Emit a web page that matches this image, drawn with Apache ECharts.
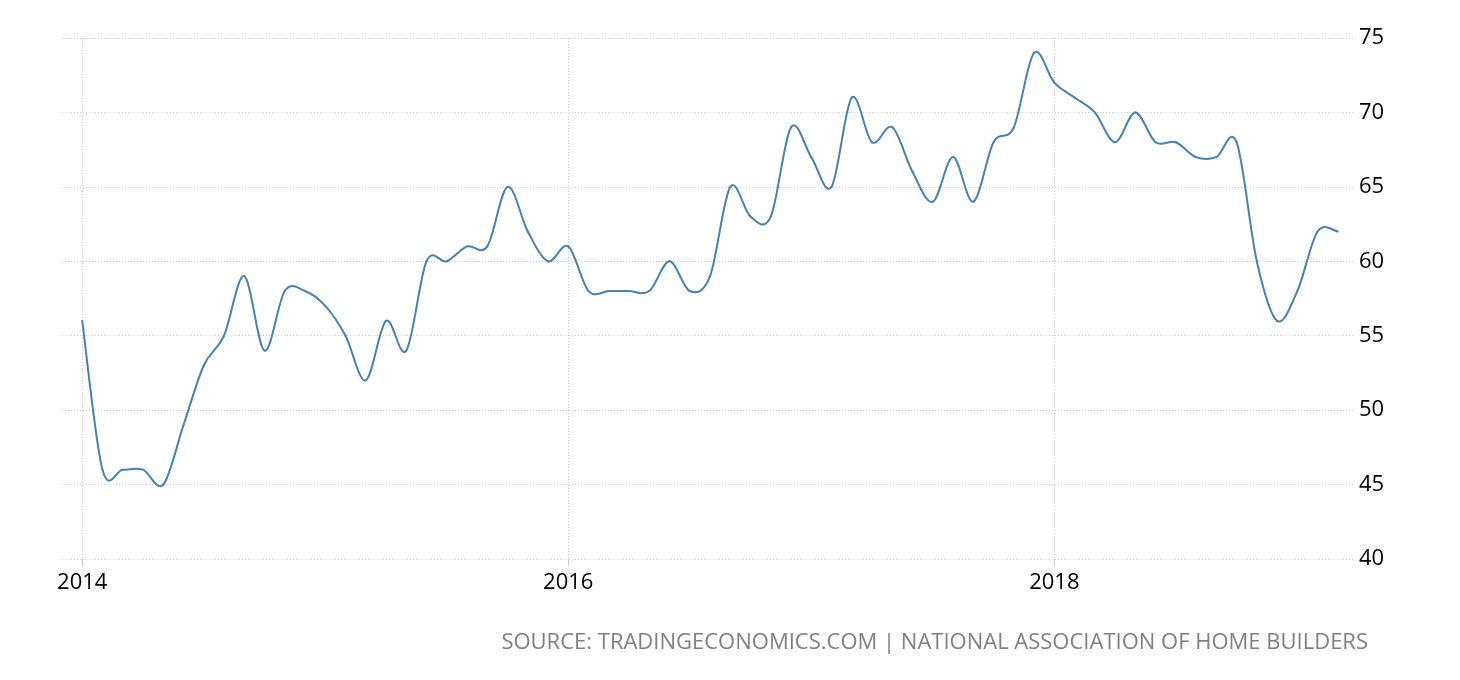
<!DOCTYPE html>
<html>
<head>
<meta charset="utf-8">
<script src="https://cdn.jsdelivr.net/npm/echarts@6/dist/echarts.min.js"></script>
<style>
html,body{margin:0;padding:0;background:#fff;}
#chart{width:1460px;height:680px;}
</style>
</head>
<body>
<div id="chart"></div>
<script>
// Monthly index values, Jan 2014 - Mar 2019
const startYear = 2014;
const values2014 = [56, 46, 46, 46, 45, 49, 53, 55, 59, 54, 58, 58];
const values2015 = [57, 55, 52, 56, 54, 60, 60, 61, 61, 65, 62, 60];
const values2016 = [61, 58, 58, 58, 58, 60, 58, 59, 65, 63, 63, 69];
const values2017 = [67, 65, 71, 68, 69, 66, 64, 67, 64, 68, 69, 74];
const values2018 = [72, 71, 70, 68, 70, 68, 68, 67, 67, 68, 60, 56];
const values2019 = [58, 62, 62];
const xTickLabels = ['2014', '2016', '2018'];
const yTicks = [40, 45, 50, 55, 60, 65, 70, 75];
const sourceText = 'SOURCE: TRADINGECONOMICS.COM | NATIONAL ASSOCIATION OF HOME BUILDERS';

const allValues = [].concat(values2014, values2015, values2016, values2017, values2018, values2019);
const seriesData = allValues.map((v, i) => [i, v]);
const xTickValues = xTickLabels.map(y => (parseInt(y, 10) - startYear) * 12);
const n = seriesData.length;

// Catmull-Rom segment from point i to i+1, positioned via the axes' scales
function renderSegment(params, api) {
  const i = params.dataIndex;
  if (i >= n - 1) return null;
  const pt = k => api.coord(seriesData[Math.max(0, Math.min(n - 1, k))]);
  const p0 = pt(i - 1), p1 = pt(i), p2 = pt(i + 1), p3 = pt(i + 2);
  return {
    type: 'bezierCurve',
    shape: {
      x1: p1[0], y1: p1[1],
      cpx1: p1[0] + (p2[0] - p0[0]) / 6, cpy1: p1[1] + (p2[1] - p0[1]) / 6,
      cpx2: p2[0] - (p3[0] - p1[0]) / 6, cpy2: p2[1] - (p3[1] - p1[1]) / 6,
      x2: p2[0], y2: p2[1]
    },
    style: { stroke: '#4682b4', lineWidth: 2, fill: null, lineCap: 'round' }
  };
}

const chart = echarts.init(document.getElementById('chart'));
chart.setOption({
  animation: false,
  backgroundColor: '#ffffff',
  grid: { left: 62, right: 107, top: 38, bottom: 121, containLabel: false },
  title: {
    text: sourceText,
    right: 92,
    top: 632,
    padding: 0,
    textStyle: { fontFamily: 'Open Sans', fontSize: 22, fontWeight: 'normal', color: '#808080' }
  },
  xAxis: {
    type: 'value',
    min: -1,
    max: 62.75,
    axisLine: { show: false },
    axisTick: { show: true, length: 7, lineStyle: { color: '#cccccc' }, customValues: xTickValues },
    axisLabel: {
      customValues: xTickValues,
      formatter: v => xTickLabels[xTickValues.indexOf(Math.round(v))] || '',
      fontFamily: 'Open Sans', fontSize: 22, color: '#000', margin: 13
    },
    splitLine: { show: true, lineStyle: { color: '#cccccc', type: [1, 2], width: 1 } }
  },
  yAxis: {
    type: 'value',
    position: 'right',
    min: yTicks[0],
    max: yTicks[yTicks.length - 1],
    interval: 5,
    axisLine: { show: false },
    axisTick: { show: false },
    axisLabel: { fontFamily: 'Open Sans', fontSize: 22, color: '#000', margin: 6 },
    splitLine: { show: true, lineStyle: { color: '#cccccc', type: [1, 2], width: 1 } }
  },
  series: [{
    type: 'custom',
    data: seriesData,
    encode: { x: 0, y: 1 },
    renderItem: renderSegment,
    clip: true
  }]
});
</script>
</body>
</html>
